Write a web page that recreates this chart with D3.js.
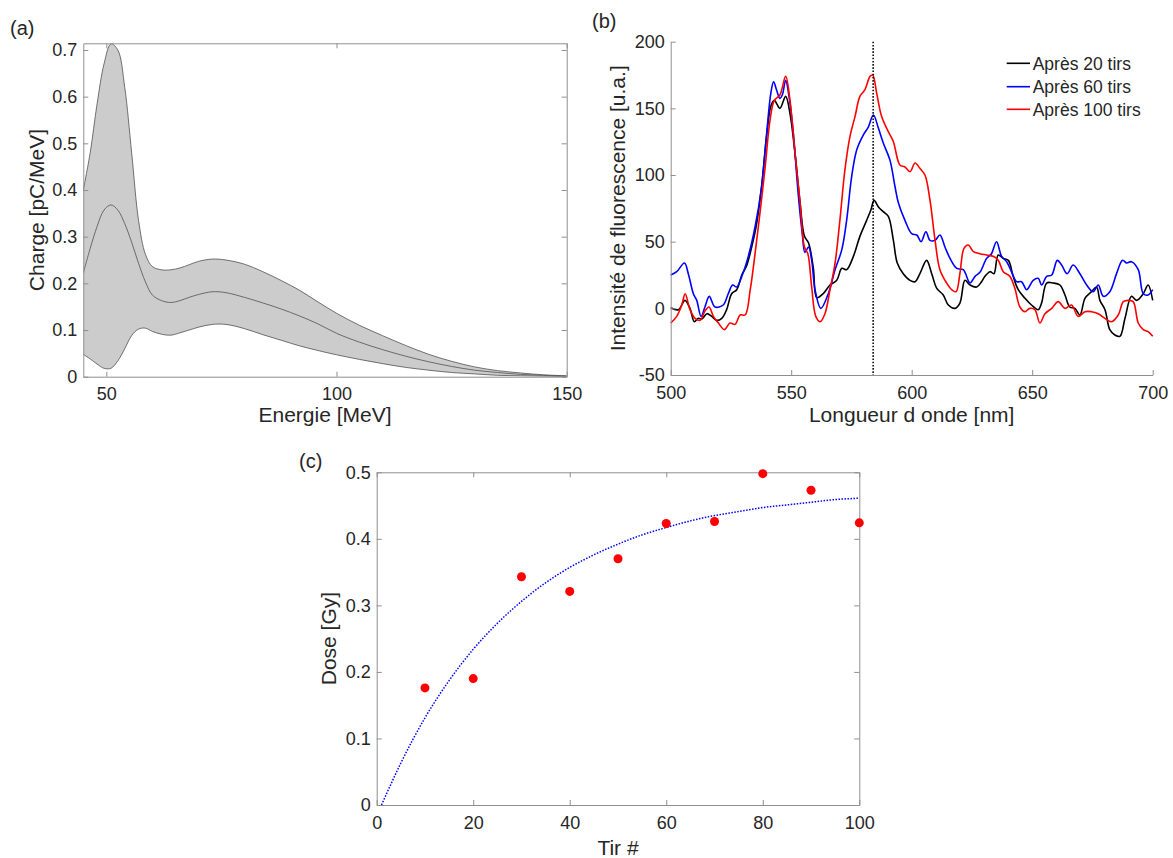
<!DOCTYPE html>
<html><head><meta charset="utf-8">
<script src="https://cdn.jsdelivr.net/npm/d3@7"></script>
<style>
body{margin:0;background:#fff}
svg text{font-family:"Liberation Sans",Arial,Helvetica,sans-serif;fill:#262626}
</style></head><body>
<svg id="chart" width="1173" height="858"></svg>
<script>
// ---------- Panel (a) data ----------
const energyMeV = [45,46.5,48,49.5,51,52.5,54,55.5,57,58.5,60,62,64,66,68,70,73,76,80,84,88,92,96,100,105,110,115,120,125,130,135,140,145,150];
const chargeUpper = [0.40,0.48,0.585,0.67,0.713,0.70,0.62,0.48,0.335,0.262,0.236,0.229,0.229,0.233,0.240,0.247,0.252,0.250,0.241,0.225,0.206,0.185,0.160,0.136,0.110,0.088,0.067,0.048,0.033,0.021,0.013,0.008,0.004,0.002];
const chargeMean  = [0.222,0.275,0.322,0.357,0.368,0.357,0.328,0.288,0.243,0.203,0.175,0.163,0.159,0.163,0.170,0.176,0.182,0.180,0.170,0.158,0.145,0.130,0.113,0.093,0.074,0.058,0.044,0.032,0.022,0.014,0.009,0.005,0.003,0.001];
const chargeLower = [0.048,0.038,0.027,0.018,0.018,0.034,0.060,0.088,0.102,0.104,0.097,0.091,0.089,0.094,0.100,0.106,0.112,0.112,0.103,0.090,0.078,0.066,0.056,0.047,0.037,0.028,0.020,0.014,0.009,0.006,0.003,0.002,0.001,0.0005];
const energyTicks = [50,100,150];
const chargeTicks = [0,0.1,0.2,0.3,0.4,0.5,0.6,0.7];

// ---------- Panel (b) data ----------
const wl20 = [500,503.2,505.9,508,509.8,511.5,512.9,515,517,519.1,521.2,523.2,525.3,527.4,529.5,531.5,533.6,535.7,537.7,539.8,541.6,543,545.3,547.7,549.5,551.6,553.7,555.5,557.2,559.2,560.6,563.3,566.1,568.9,571,573,575.8,578.5,581.3,583.1,584.4,586.2,588.2,590.3,592.4,594,596.5,599.3,601.4,603.4,606.2,608.3,610.4,613.1,615.2,617.9,620,622.1,624.2,627,629,630.4,632.5,634.1,635.9,638,640.1,642.1,644.2,647,649.7,652.5,653.9,656,658.7,661.5,663.6,665.6,667.7,669.8,671.9,674.6,676.7,678.1,680.2,682.2,684.3,686.4,688.5,691.2,693.3,696.1,698.1,700];
const int20 = [0.5,-1,6,0,-10,-7.5,-8,-4,-6,-9,-7.5,-1,11,14,25,32,46,64,91,129,152,156,150,159,146,116,79,54,49,30,8,11,17.5,21,30,29,39,54,66,74,81,76,72.5,69,51,34,26,21,20,26,36,26,15,10,2.5,0,4,21,17.5,16,20,24,27.5,26,40,37.5,36,24,14,7.5,2.5,-1,4,19,19,17.5,10,1,0,-5,7.5,12.5,16,6,-1,-16,-20,-21,-7.5,9,6,11,17.5,6];
const wl60 = [500,502.5,505.7,507.3,509.4,510.8,512.6,514.2,516,518.4,521.8,523.9,525.7,527.4,529.5,532.2,535,537.7,539.8,541.6,542.7,543.9,545.3,546.3,547.7,549.1,550.9,552.9,554.6,555.7,557.2,558.5,559.9,562.3,565.4,568.2,571,573,575.1,577.2,579.9,582,584.1,586.2,588.2,591,593.1,594.5,597.2,600,602.1,603.9,605.9,607.6,609.7,611.7,613.8,615.9,618.7,621.4,624.2,626.3,628.3,631.1,633.1,635.2,637.3,639.4,641.4,643.5,645.6,647.7,650.4,652.5,653.9,656,658.1,660.4,662.2,664.5,667,669.8,672.6,675.3,677.4,679.5,682.2,685,687.5,689.2,691.2,694,696.1,698.1,700];
const int60 = [25,27.5,34,26,11,6,-6,1,9,1,2.5,11,17.5,16,24,39,61,91,131,162,170,164,157.5,160,171,159,131,86,56,42,46,36,14,0,11,29,44,66,99,119,130,136,145,135,124,111,91,79,66,56,55,50,57.5,51,51,55,46,37.5,30,29,19,24,27,37.5,41,50,39,35,27.5,20,20,14,21,22.5,17.5,24,25,36,32.5,26,32.5,26,17.5,12.5,17.5,9,12.5,26,36,34,35,29,11,10,14];
const wl100 = [500,502.5,504.6,506,508,510.1,512.2,514.2,515.9,517.7,519.8,522.3,524.6,526.7,528.8,530.9,533,535,537.2,539.2,541.2,543,545.3,547.7,549.5,551.6,553.7,555.5,556.9,558.5,560.2,562,564,566.1,568.2,570.2,572.3,574.4,576.5,578.5,580.6,582.7,583.8,585.5,587.5,590.3,592.4,595.1,597.2,599.3,601.4,603.4,605.5,607.6,609.7,611.7,614.5,616.6,618.4,620,621.7,623.5,625.6,628.3,631.1,633.8,635.9,638,640.7,642.8,644.9,647,649,651.1,653.2,655.3,658.1,660.8,663.6,666.3,669.1,671.9,674.6,677.4,680.2,682.9,685.7,687.8,689.8,691.9,694,696.1,698.1,700];
const int100 = [-11,-6,2.5,11,-1,-7.5,-9,-2,1,-6,-11,-16,-11,-12,-5,-5,14,41,74,106,141,156,160,174,156,116,79,46,41,16,-6,-10,-4,14,34,66,104,129,144,159,164,174,175,161,144,132.5,125,107.5,106,102.5,109,105,100,81,51,29,19,14,12.5,26,45,47.5,42.5,41,40,39,36,27.5,24,15,1,-2.5,0,-1,-11,-4,0,5,0,2.5,-6,-2.5,-2.5,-4,-7.5,-10,-5,5,6,5,-11,-16,-17.5,-21];
const seriesNames = ["Après 20 tirs","Après 60 tirs","Après 100 tirs"];
const seriesColors = ["#000000","#0000ff","#ff0000"];
const markerWavelength = [584];
const wlTicks = [500,550,600,650,700];
const intTicks = [-50,0,50,100,150,200];

// ---------- Panel (c) data ----------
const shotNumber = [10,20,30,40,50,60,70,80,90,100];
const doseGy = [0.176,0.190,0.343,0.321,0.370,0.423,0.426,0.498,0.473,0.424];
const fitShot = [1,5,10,15,20,25,30,35,40,45,50,55,60,65,70,75,80,85,90,95,100];
const fitDose = [0,0.063,0.131,0.187,0.234,0.273,0.306,0.334,0.357,0.376,0.392,0.406,0.417,0.427,0.435,0.441,0.447,0.451,0.455,0.459,0.461];
const shotTicks = [0,20,40,60,80,100];
const doseTicks = [0,0.1,0.2,0.3,0.4,0.5];

// ---------- Drawing ----------
const svg = d3.select("#chart");
const AX = "#8f8f8f";
const TICKFONT = "18px", LABELFONT = "21px";

function styleAxis(g){
  g.selectAll("path.domain").attr("stroke", AX).attr("stroke-width", 1);
  g.selectAll(".tick line").attr("stroke", AX).attr("stroke-width", 1);
  g.selectAll(".tick text").attr("fill", "#262626").style("font-size", TICKFONT)
    .style("font-family", '"Liberation Sans",Arial,sans-serif');
}
const numFmt = d => d === 0 ? "0" : String(d);

function drawAxes(x, y, xt, yt, boxed){
  const [x0,x1] = x.range(), [y0,y1] = y.range();
  const gx = svg.append("g").attr("transform", `translate(0,${y0})`)
    .call(d3.axisBottom(x).tickValues(xt).tickFormat(numFmt).tickSizeInner(-5).tickSizeOuter(0).tickPadding(11));
  styleAxis(gx);
  const gy = svg.append("g").attr("transform", `translate(${x0},0)`)
    .call(d3.axisLeft(y).tickValues(yt).tickFormat(numFmt).tickSizeInner(-5).tickSizeOuter(0).tickPadding(6));
  styleAxis(gy);
  if (boxed){
    const gt = svg.append("g").attr("transform", `translate(0,${y1})`)
      .call(d3.axisTop(x).tickValues(xt).tickFormat("").tickSizeInner(-5).tickSizeOuter(0));
    styleAxis(gt);
    const gr = svg.append("g").attr("transform", `translate(${x1},0)`)
      .call(d3.axisRight(y).tickValues(yt).tickFormat("").tickSizeInner(-5).tickSizeOuter(0));
    styleAxis(gr);
  }
}
function label(text, x, y, rot, size){
  const t = svg.append("text").text(text).attr("text-anchor", "middle").style("font-size", size || LABELFONT);
  if (rot) t.attr("transform", `translate(${x},${y}) rotate(-90)`);
  else t.attr("x", x).attr("y", y);
  return t;
}

// Panel (a)
const xa = d3.scaleLinear([45,150],[83.3,566.7]);
const ya = d3.scaleLinear([0,0.7143],[376.7,43.3]);
const bandData = energyMeV.map((e,i)=>({e, u:chargeUpper[i], m:chargeMean[i], l:chargeLower[i]}));
svg.append("defs").append("clipPath").attr("id","clipA").append("rect")
  .attr("x",83.3).attr("y",43.3).attr("width",483.4).attr("height",333.4);
const ga = svg.append("g").attr("clip-path","url(#clipA)");
const curveA = d3.curveCatmullRom.alpha(0.5);
ga.append("path").datum(bandData)
  .attr("d", d3.area().x(d=>xa(d.e)).y0(d=>ya(d.l)).y1(d=>ya(d.u)).curve(curveA))
  .attr("fill","#cccccc");
["u","m","l"].forEach(k=>{
  ga.append("path").datum(bandData)
    .attr("d", d3.line().x(d=>xa(d.e)).y(d=>ya(d[k])).curve(curveA))
    .attr("fill","none").attr("stroke","#505050").attr("stroke-width",0.8);
});
drawAxes(xa, ya, energyTicks, chargeTicks, true);
label("Energie [MeV]", 325, 421.7);
label("Charge [pC/MeV]", 44, 210, true);
svg.append("text").text("(a)").attr("x",10).attr("y",35).style("font-size","20px");

// Panel (b)
const xb = d3.scaleLinear([500,700],[670.7,1152.7]);
const yb = d3.scaleLinear([-50,200],[375,41.7]);
const curveB = d3.curveCatmullRom.alpha(0.5);
const bSeries = [[wl20,int20],[wl60,int60],[wl100,int100]];
bSeries.forEach(([xs,ys],i)=>{
  svg.append("path").datum(xs.map((w,j)=>[w,ys[j]]))
    .attr("d", d3.line().x(d=>xb(d[0])).y(d=>yb(d[1])).curve(curveB))
    .attr("fill","none").attr("stroke",seriesColors[i]).attr("stroke-width",1.6)
    .attr("stroke-linejoin","round");
});
markerWavelength.forEach(w=>{
  svg.append("line").attr("x1",xb(w)).attr("x2",xb(w)).attr("y1",yb(200)).attr("y2",yb(-50))
    .attr("stroke","#000").attr("stroke-width",1.5).attr("stroke-dasharray","1.6,1.6");
});
drawAxes(xb, yb, wlTicks, intTicks, false);
label("Longueur d onde [nm]", 911.7, 421.7);
label("Intensité de fluorescence [u.a.]", 625, 208.3, true);
svg.append("text").text("(b)").attr("x",592).attr("y",28).style("font-size","20px");
const legY = [63.3, 86.7, 109.3];
seriesNames.forEach((n,i)=>{
  svg.append("line").attr("x1",1006.7).attr("x2",1030).attr("y1",legY[i]).attr("y2",legY[i])
    .attr("stroke",seriesColors[i]).attr("stroke-width",1.6);
  svg.append("text").text(n).attr("x",1032.7).attr("y",legY[i]).attr("dy","0.36em").style("font-size","17.5px");
});

// Panel (c)
const xc = d3.scaleLinear([0,100],[376.7,859.3]);
const yc = d3.scaleLinear([0,0.5],[805,472.3]);
svg.append("path").datum(fitShot.map((s,i)=>[s,fitDose[i]]))
  .attr("d", d3.line().x(d=>xc(d[0])).y(d=>yc(d[1])).curve(d3.curveMonotoneX))
  .attr("fill","none").attr("stroke","#0000ff").attr("stroke-width",1.5).attr("stroke-dasharray","1.5,1.5");
drawAxes(xc, yc, shotTicks, doseTicks, true);
svg.append("g").selectAll("circle").data(shotNumber).join("circle")
  .attr("cx",d=>xc(d)).attr("cy",(d,i)=>yc(doseGy[i])).attr("r",4.5).attr("fill","#ff0000");
label("Tir #", 618, 855);
label("Dose [Gy]", 336, 638.6, true);
svg.append("text").text("(c)").attr("x",299).attr("y",468).style("font-size","20px");
</script>
</body></html>
